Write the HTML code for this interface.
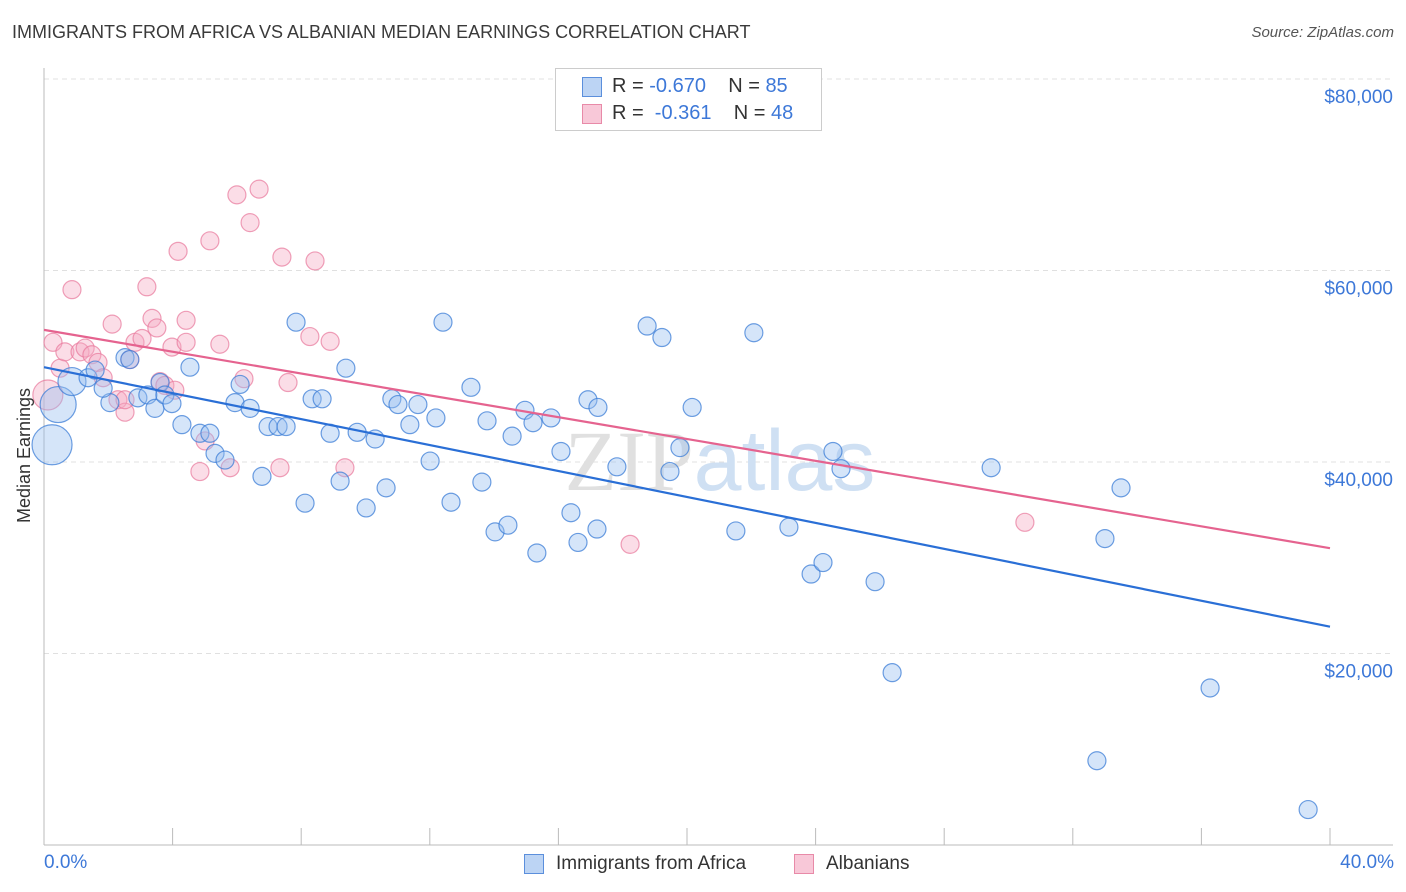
<!DOCTYPE html>
<html><head><meta charset="utf-8"><style>
body{margin:0;background:#fff;font-family:"Liberation Sans",sans-serif;}
#wrap{position:relative;width:1406px;height:892px;overflow:hidden;}
.t{position:absolute;white-space:nowrap;}
</style></head><body>
<div id="wrap">
<div class="t" style="left:12px;top:22px;font-size:18px;color:#3a3a3a;">IMMIGRANTS FROM AFRICA VS ALBANIAN MEDIAN EARNINGS CORRELATION CHART</div>
<div class="t" style="right:12px;top:24px;font-size:15px;color:#555;font-style:italic;">Source: ZipAtlas.com</div>
<svg id="svg" width="1406" height="892" style="position:absolute;left:0;top:0"></svg>
</div>
<script>
const yTicks=[20000,40000,60000,80000];
const yTickLabels=["$20,000","$40,000","$60,000","$80,000"];
const blueX=[.25,.44,.87,1.37,1.59,2.05,1.84,2.52,2.67,2.92,3.23,3.45,3.61,3.76,3.98,4.29,4.54,4.85,5.16,5.32,5.63,6.10,5.94,6.41,6.78,6.97,7.28,7.53,7.84,8.12,8.34,8.65,8.90,9.21,9.39,9.74,10.02,10.30,10.64,10.82,11.01,11.38,11.63,12.01,12.19,12.41,12.66,13.28,13.62,13.78,14.03,14.43,14.56,14.96,15.33,15.21,15.77,16.08,16.39,16.61,16.92,17.20,17.23,17.82,18.76,19.22,19.47,19.78,20.16,21.52,22.08,23.17,23.86,24.23,24.54,24.79,25.85,26.38,29.46,33.00,33.50,32.75,36.27,39.32];
const blueY=[41.8,46.0,48.4,48.8,49.6,46.2,47.7,50.9,50.7,46.7,47.0,45.6,48.3,47.0,46.1,43.9,49.9,43.0,43.0,40.9,40.2,48.1,46.2,45.6,38.5,43.7,43.7,43.7,54.6,35.7,46.6,46.6,43.0,38.0,49.8,43.1,35.2,42.4,37.3,46.6,46.0,43.9,46.0,40.1,44.6,54.6,35.8,47.8,37.9,44.3,32.7,33.4,42.7,45.4,30.5,44.1,44.6,41.1,34.7,31.6,46.5,33.0,45.7,39.5,54.2,53.0,39.0,41.5,45.7,32.8,53.5,33.2,28.3,29.5,41.1,39.3,27.5,18.0,39.4,32.0,37.3,8.8,16.4,3.7];
const blueSize=[20,18,14,9,9,9,9,9,9,9,9,9,9,9,9,9,9,9,9,9,9,9,9,9,9,9,9,9,9,9,9,9,9,9,9,9,9,9,9,9,9,9,9,9,9,9,9,9,9,9,9,9,9,9,9,9,9,9,9,9,9,9,9,9,9,9,9,9,9,9,9,9,9,9,9,9,9,9,9,9,9,9,9,9];
const pinkX=[.12,.28,.50,.65,.87,1.12,1.28,1.49,1.68,1.84,2.12,2.30,2.52,2.52,2.67,2.83,3.05,3.20,3.36,3.51,3.61,3.76,3.98,4.07,4.17,4.42,4.42,4.85,5.01,5.16,5.47,5.79,6.00,6.22,6.41,6.69,7.40,7.59,7.34,8.27,8.43,8.90,9.36,18.23,30.51];
const pinkY=[47.0,52.5,49.8,51.5,58.0,51.5,51.9,51.2,50.4,48.8,54.4,46.5,45.2,46.5,50.7,52.5,52.9,58.3,55.0,54.0,48.4,48.0,52.0,47.5,62.0,54.8,52.5,39.0,42.2,63.1,52.3,39.4,67.9,48.7,65.0,68.5,61.4,48.3,39.4,53.1,61.0,52.6,39.4,31.4,33.7];
const pinkSize=[15,9,9,9,9,9,9,9,9,9,9,9,9,9,9,9,9,9,9,9,9,9,9,9,9,9,9,9,9,9,9,9,9,9,9,9,9,9,9,9,9,9,9,9,9];
const blueTrend=[49.9,22.8];
const pinkTrend=[53.8,31.0];
const NS="http://www.w3.org/2000/svg";
const svg=document.getElementById('svg');
const X=p=>44+(p/40)*1286;
const Y=v=>845-v/20000*191.5;
const Yk=k=>Y(k*1000);
function mk(tag,at){const e=document.createElementNS(NS,tag);for(const k in at)e.setAttribute(k,at[k]);svg.appendChild(e);return e;}
yTicks.forEach((v,i)=>{
 const g=mk('line',{x1:44,x2:1393,y1:Y(v),y2:Y(v),stroke:'#e0e0e0','stroke-dasharray':'5,4'});
 
 
 const t=mk('text',{x:1393,y:Y(v)+24,'text-anchor':'end','font-size':19,fill:'#3d78d8','font-family':'Liberation Sans'});
 t.textContent=yTickLabels[i];
 
 
});
const ax=mk('line',{x1:44,x2:44,y1:68,y2:845,stroke:'#bbb'});


const bx=mk('line',{x1:44,x2:1393,y1:845,y2:845,stroke:'#bbb'});


for(let i=0;i<=10;i++){const l=mk('line',{x1:X(i*4),x2:X(i*4),y1:828,y2:845,stroke:'#bbb'});
 
 }
const wm=mk('text',{x:720,y:490,'text-anchor':'middle','font-size':86,fill:'#e0e0e0','font-family':'Liberation Serif'});
wm.innerHTML='ZIP<tspan fill="#cfe0f3" font-family="Liberation Sans">atlas</tspan>';


function pts(xs,ys,ss,fill,stroke,name){xs.forEach((x,i)=>{
 const c=mk('circle',{cx:X(x),cy:Yk(ys[i]),r:ss[i],fill:fill,stroke:stroke,'stroke-width':1.2});
 
 });}
pts(pinkX,pinkY,pinkSize,'rgba(246,170,195,0.4)','rgba(232,120,155,0.7)','albanians-point');
pts(blueX,blueY,blueSize,'rgba(150,190,240,0.4)','rgba(60,125,215,0.75)','africa-point');
const bl=mk('line',{x1:X(0),x2:X(40),y1:Yk(blueTrend[0]),y2:Yk(blueTrend[1]),stroke:'#2a6fd6','stroke-width':2.2});


const pl=mk('line',{x1:X(0),x2:X(40),y1:Yk(pinkTrend[0]),y2:Yk(pinkTrend[1]),stroke:'#e5638f','stroke-width':2.2});


</script>
<div class="t" style="left:-43px;top:445px;font-size:18px;color:#333;transform:rotate(-90deg);">Median Earnings</div>
<div class="t" style="left:44px;top:852px;font-size:19px;color:#3d78d8;">0.0%</div>
<div class="t" style="right:12px;top:852px;font-size:19px;color:#3d78d8;">40.0%</div>
<div style="position:absolute;left:555px;top:68px;width:265px;height:61px;border:1px solid #ccc;background:#fff;font-size:20px;color:#333;">
 <div style="position:absolute;left:26px;top:8px;width:18px;height:18px;background:#bcd4f4;border:1px solid #5b8fdc;"></div>
 <div class="t" style="left:56px;top:6px;">R = <span style="color:#3d78d8">-0.670</span>&nbsp;&nbsp;&nbsp; N = <span style="color:#3d78d8">85</span></div>
 <div style="position:absolute;left:26px;top:35px;width:18px;height:18px;background:#f8c8d8;border:1px solid #e88aa8;"></div>
 <div class="t" style="left:56px;top:33px;">R = &nbsp;<span style="color:#3d78d8">-0.361</span>&nbsp;&nbsp;&nbsp; N = <span style="color:#3d78d8">48</span></div>
</div>
<div style="position:absolute;left:524px;top:853px;font-size:19px;color:#333;">
 <div style="position:absolute;left:0;top:0;width:260px;">
  <div style="position:absolute;left:0;top:1px;width:18px;height:18px;background:#bcd4f4;border:1px solid #5b8fdc;"></div>
  <div class="t" style="left:32px;top:0;">Immigrants from Africa</div></div>
 <div style="position:absolute;left:270px;top:0;width:150px;">
  <div style="position:absolute;left:0;top:1px;width:18px;height:18px;background:#f8c8d8;border:1px solid #e88aa8;"></div>
  <div class="t" style="left:32px;top:0;">Albanians</div></div>
</div>
</body></html>
